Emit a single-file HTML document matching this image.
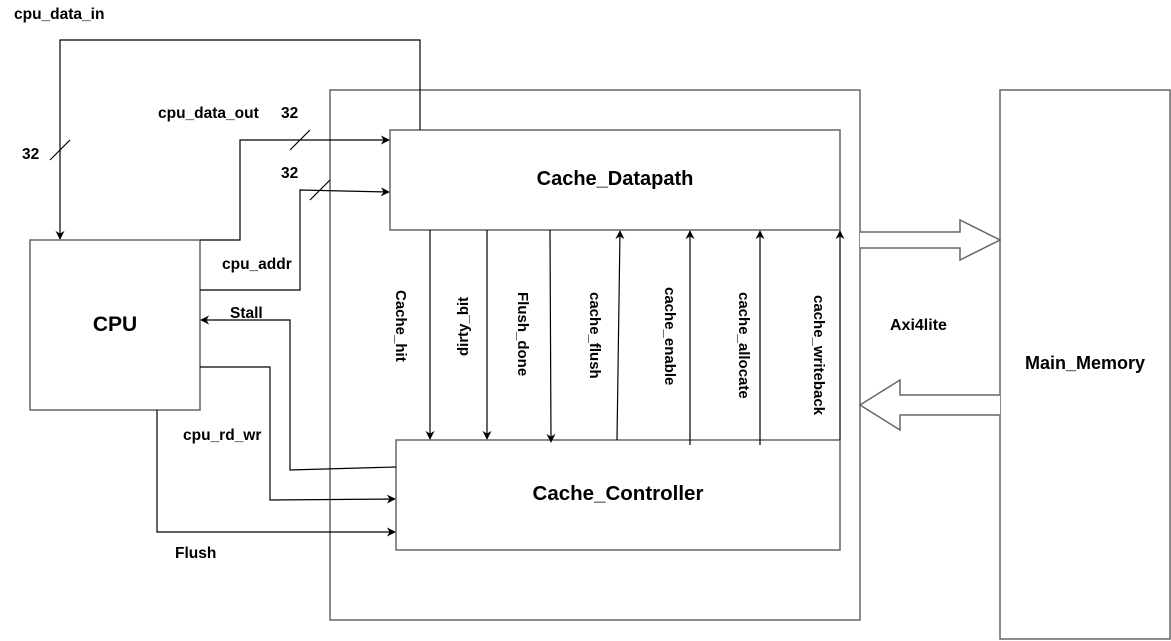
<!DOCTYPE html>
<html><head><meta charset="utf-8"><style>
html,body{margin:0;padding:0;background:#fff;}
svg{display:block;}
text{font-family:"Liberation Sans",Arial,sans-serif;font-weight:bold;fill:#000;}
</style></head><body>
<svg width="1171" height="641" viewBox="0 0 1171 641" xmlns="http://www.w3.org/2000/svg">
<defs>
<marker id="a" viewBox="0 0 10 10" refX="9" refY="5" markerWidth="9" markerHeight="9" markerUnits="userSpaceOnUse" orient="auto">
<path d="M0,0 L10,5 L0,10 L3,5 Z" fill="#000"/></marker>
</defs>
<g fill="none" stroke="#666" stroke-width="1.5">
<rect x="330" y="90" width="530" height="530"/>
<rect x="1000" y="90" width="170" height="549"/>
<rect x="30" y="240" width="170" height="170"/>
<rect x="390" y="130" width="450" height="100"/>
<rect x="396" y="440" width="444" height="110"/>
<path d="M860,232 H960 V220 L1000,240 L960,260 V248 H860" fill="#fff"/>
<path d="M1000,395 H900 V380 L860,405 L900,430 V415 H1000" fill="#fff"/>
</g>
<g fill="none" stroke="#000" stroke-width="1.2">
<path d="M420,130 V40 H60 V239" marker-end="url(#a)"/>
<path d="M50,160 L70,140"/>
<path d="M200,240 H240 V140 H389" marker-end="url(#a)"/>
<path d="M290,150 L310,130"/>
<path d="M200,290 H300 V190 L389,192" marker-end="url(#a)"/>
<path d="M310,200 L330,180"/>
<path d="M396,467 L290,470 V320 H201" marker-end="url(#a)"/>
<path d="M200,367 H270 V500 L395,499" marker-end="url(#a)"/>
<path d="M157,410 V532 H395" marker-end="url(#a)"/>
<path d="M430,230 V439" marker-end="url(#a)"/>
<path d="M487,230 V439" marker-end="url(#a)"/>
<path d="M550,230 L551,442" marker-end="url(#a)"/>
<path d="M617,440 L620,231" marker-end="url(#a)"/>
<path d="M690,445 V231" marker-end="url(#a)"/>
<path d="M760,445 V231" marker-end="url(#a)"/>
<path d="M840,440 V231" marker-end="url(#a)"/>
</g>
<g font-size="15.5">
<text x="14" y="19">cpu_data_in</text>
<text x="22" y="159">32</text>
<text x="158" y="118">cpu_data_out</text>
<text x="281" y="118">32</text>
<text x="281" y="178">32</text>
<text x="222" y="269">cpu_addr</text>
<text x="230" y="318">Stall</text>
<text x="183" y="440">cpu_rd_wr</text>
<text x="175" y="558">Flush</text>
<text x="890" y="330" font-size="16">Axi4lite</text>
<text x="1025" y="369" font-size="18">Main_Memory</text>
</g>
<text x="115" y="331" font-size="21" text-anchor="middle">CPU</text>
<text x="615" y="185" font-size="20" text-anchor="middle">Cache_Datapath</text>
<text x="618" y="500" font-size="20.5" text-anchor="middle">Cache_Controller</text>
<g font-size="15">
<text transform="translate(396,290) rotate(90)">Cache_hit</text>
<text transform="translate(468,356) rotate(-90)">dirty_bit</text>
<text transform="translate(518,292) rotate(90)">Flush_done</text>
<text transform="translate(590,292) rotate(90)">cache_flush</text>
<text transform="translate(665,287) rotate(90)">cache_enable</text>
<text transform="translate(739,292) rotate(90)">cache_allocate</text>
<text transform="translate(814,295) rotate(90)">cache_writeback</text>
</g>
</svg>
</body></html>
